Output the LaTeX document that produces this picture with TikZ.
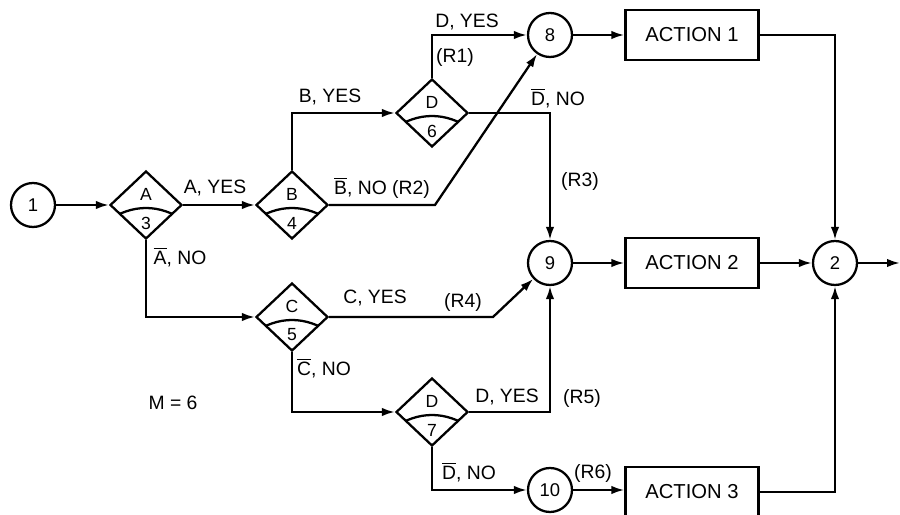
\documentclass[tikz,border=0pt]{standalone}
\usepackage{fontspec}
\setmainfont{Liberation Sans}
\usetikzlibrary{shapes.geometric,arrows.meta,positioning,calc}

\newcommand{\nbar}[1]{$\overline{\mbox{#1}}$}

\begin{document}
\begin{tikzpicture}[
    junction/.style={circle, draw, line width=1.3pt, minimum size=0.88cm, inner sep=0pt, font=\fontsize{10.5}{12}\selectfont},
    decision/.style 2 args={diamond, draw, line width=1.3pt, minimum width=1.44cm, minimum height=1.36cm, inner sep=0pt,
        label={[yshift=0.22cm, font=\fontsize{10}{11}\selectfont]center:#1},
        label={[yshift=-0.36cm, font=\fontsize{10}{11}\selectfont]center:#2},
        path picture={\draw[line width=1.3pt, shift={(path picture bounding box.center)}] (-0.8,-0.333) .. controls (-0.267,0.031) and (0.267,0.031) .. (0.8,-0.333);}},
    action/.style={rectangle, draw, line width=1.3pt, minimum width=2.66cm, minimum height=1cm, font=\fontsize{11.5}{13}\selectfont},
    arrow/.style={-{Latex[length=2.6mm,width=1.7mm]}, line width=1.3pt},
    lbl/.style={font=\fontsize{11}{13}\selectfont, inner sep=1pt}
]
    \useasboundingbox (0,0) rectangle (18,10.3);

    \node[junction] (n1) at (0.66,6.20) {1};
    \node[decision={A}{3}] (dA) at (2.92,6.20) {};
    \node[decision={B}{4}] (dB) at (5.84,6.20) {};
    \node[decision={D}{6}] (dD6) at (8.64,8.04) {};
    \node[decision={C}{5}] (dC) at (5.84,3.96) {};
    \node[decision={D}{7}] (dD7) at (8.64,2.06) {};
    \node[junction] (n8) at (11.0,9.60) {8};
    \node[junction] (n9) at (11.0,5.04) {9};
    \node[junction] (n10) at (11.0,0.50) {10};
    \node[junction] (n2) at (16.70,5.04) {2};
    \node[action] (a1) at (13.84,9.60) {ACTION 1};
    \node[action] (a2) at (13.84,5.04) {ACTION 2};
    \node[action] (a3) at (13.84,0.46) {ACTION 3};

    \coordinate (kB) at (8.70,6.20);
    \coordinate (kC) at (9.86,3.96);
    \coordinate (out) at (18,5.04);

    \draw[arrow] (n1) -- (dA);
    \draw[arrow] (dA) -- (dB);
    \draw[arrow] (dB.north) |- (dD6.west);
    \draw[arrow] (dD6.north) |- (n8.west);
    \draw[arrow] (dB.east) -- (kB) -- (n8);
    \draw[arrow] (dD6.east) -| (n9.north);
    \draw[arrow] (dA.south) |- (dC.west);
    \draw[arrow] (dC.east) -- (kC) -- (n9);
    \draw[arrow] (dC.south) |- (dD7.west);
    \draw[arrow] (dD7.east) -| (n9.south);
    \draw[arrow] (dD7.south) |- (n10.west);
    \draw[arrow] (n8) -- (a1);
    \draw[arrow] (n9) -- (a2);
    \draw[arrow] (n10) -- (n10 -| a3.west);
    \draw[arrow] (a2) -- (n2);
    \draw[arrow] (a1.east) -| (n2.north);
    \draw[arrow] (a3.east) -| (n2.south);
    \draw[arrow] (n2) -- (out);

    \node[lbl] (lAy) at (4.30,6.54) {A, YES};
    \node[lbl] (lAn) at (3.60,5.16) {\nbar{A}, NO};
    \node[lbl] (lBy) at (6.60,8.36) {B, YES};
    \node[lbl] (lBn) at (7.64,6.54) {\nbar{B}, NO (R2)};
    \node[lbl] (lDy6) at (9.34,9.86) {D, YES};
    \node[lbl] (lR1) at (9.10,9.14) {(R1)};
    \node[lbl] (lDn6) at (11.16,8.34) {\nbar{D}, NO};
    \node[lbl] (lR3) at (11.60,6.66) {(R3)};
    \node[lbl] (lCy) at (7.50,4.34) {C, YES};
    \node[lbl] (lR4) at (9.26,4.26) {(R4)};
    \node[lbl] (lCn) at (6.48,2.94) {\nbar{C}, NO};
    \node[lbl] (lDy7) at (10.14,2.36) {D, YES};
    \node[lbl] (lR5) at (11.64,2.34) {(R5)};
    \node[lbl] (lDn7) at (9.38,0.86) {\nbar{D}, NO};
    \node[lbl] (lR6) at (11.86,0.84) {(R6)};
    \node[lbl] (lM) at (3.46,2.24) {M = 6};
\end{tikzpicture}
\end{document}
